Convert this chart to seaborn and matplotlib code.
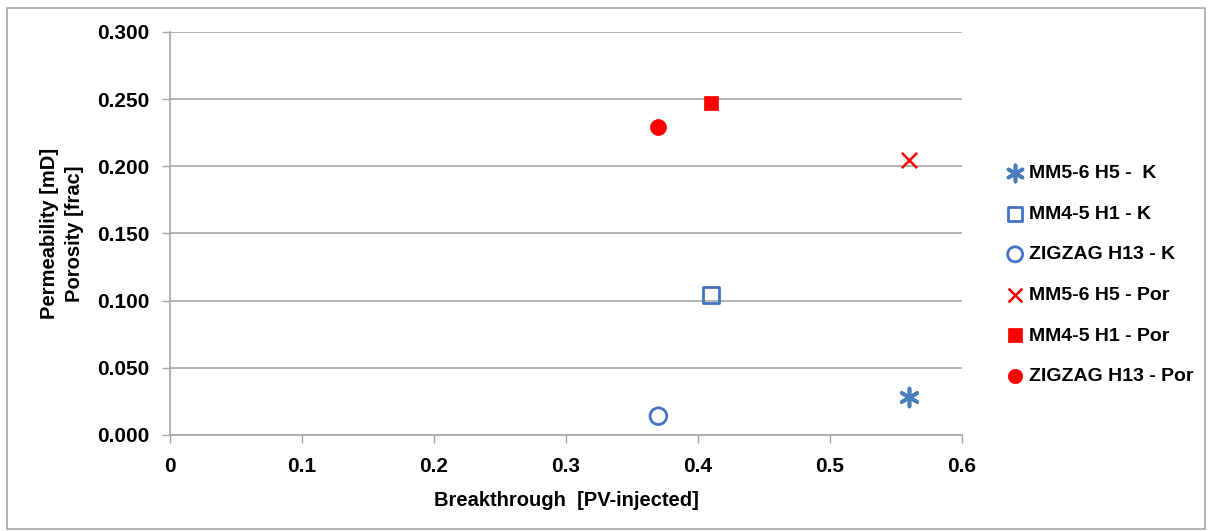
import matplotlib
matplotlib.use("Agg")
import matplotlib.pyplot as plt
import seaborn as sns
import pandas as pd
from matplotlib.patches import Rectangle

# ---- data ----
series_names = ["MM5-6 H5 -  K", "MM4-5 H1 - K", "ZIGZAG H13 - K",
                "MM5-6 H5 - Por", "MM4-5 H1 - Por", "ZIGZAG H13 - Por"]
breakthrough = [0.56, 0.41, 0.37, 0.56, 0.41, 0.37]
values = [0.028, 0.104, 0.014, 0.205, 0.247, 0.229]
x_ticks = [0, 0.1, 0.2, 0.3, 0.4, 0.5, 0.6]
x_tick_labels = ["0", "0.1", "0.2", "0.3", "0.4", "0.5", "0.6"]
y_ticks = [0.0, 0.05, 0.10, 0.15, 0.20, 0.25, 0.30]
y_tick_labels = ["0.000", "0.050", "0.100", "0.150", "0.200", "0.250", "0.300"]

# ---- styles ----
blue = "#4472C4"
blue2 = "#4A7EBB"
red = "#FF0000"
styles = [
    dict(marker=(6, 2, 0), facecolor=blue2, edgecolor=blue2, size=13, lw=2.6),
    dict(marker="s", facecolor="none", edgecolor=blue, size=11.5, lw=2.0),
    dict(marker="o", facecolor="none", edgecolor=blue, size=12, lw=2.0),
    dict(marker="x", facecolor=red, edgecolor=red, size=11, lw=1.8),
    dict(marker="s", facecolor=red, edgecolor=red, size=10.5, lw=0.5),
    dict(marker="o", facecolor=red, edgecolor=red, size=11.5, lw=0.5),
]

df = pd.DataFrame({"name": series_names, "x": breakthrough, "y": values})

sns.set_theme(style="white")
plt.rcParams["font.family"] = ["Liberation Sans", "DejaVu Sans"]
plt.rcParams["font.weight"] = "bold"
plt.rcParams["axes.labelweight"] = "bold"
plt.rcParams["axes.labelcolor"] = "black"
plt.rcParams["text.color"] = "black"

fig = plt.figure(figsize=(12.12, 5.31), dpi=100)
ax = fig.add_axes([170 / 1212, 1 - 435 / 531, (962 - 170) / 1212, (435 - 32) / 531])

for name, st in zip(series_names, styles):
    sub = df[df["name"] == name]
    sns.scatterplot(data=sub, x="x", y="y", ax=ax, marker=st["marker"],
                    s=st["size"] ** 2, color=st["facecolor"] if st["facecolor"] != "none" else None,
                    facecolor=st["facecolor"], edgecolor=st["edgecolor"],
                    linewidth=st["lw"], label=name, zorder=3, clip_on=False)

ax.set_xlim(0, 0.6)
ax.set_ylim(0, 0.3)
ax.set_xticks(x_ticks)
ax.set_xticklabels(x_tick_labels)
ax.set_yticks(y_ticks)
ax.set_yticklabels(y_tick_labels)
ax.tick_params(axis="both", labelsize=15, colors="#000000", length=6, width=1,
               direction="out")
ax.tick_params(axis="x", bottom=True, color="#A6A6A6", pad=10)
ax.tick_params(axis="y", left=True, color="#A6A6A6", pad=9)
for lbl in ax.get_xticklabels() + ax.get_yticklabels():
    lbl.set_fontweight("bold")

ax.grid(axis="y", color="#A6A6A6", linewidth=1.2)
ax.grid(axis="x", visible=False)
ax.set_axisbelow(True)
for side in ["top", "right"]:
    ax.spines[side].set_visible(False)
for side in ["left", "bottom"]:
    ax.spines[side].set_color("#A6A6A6")
    ax.spines[side].set_linewidth(1.2)

ax.set_xlabel("Breakthrough  [PV-injected]", fontsize=14.5, fontweight="bold", color="black")
ax.xaxis.set_label_coords(0.5, -0.14)
ax.set_ylabel("Permeability [mD]\nPorosity [frac]", fontsize=14.5, fontweight="bold",
              linespacing=1.4, color="black")
ax.yaxis.set_label_coords(-0.109, 0.5)

leg = ax.legend(loc="upper left", bbox_to_anchor=(1.045, 0.69), frameon=False,
                prop={"size": 14, "weight": "bold"}, labelspacing=1.18,
                handletextpad=0.2, handlelength=1.0, borderaxespad=0,
                markerscale=0.9)

fig.patches.append(Rectangle((7 / 1212, 2 / 531), 1 - 14 / 1212, 1 - 10 / 531,
                             transform=fig.transFigure, fill=False,
                             edgecolor="#A6A6A6", linewidth=1.2))

fig.savefig("out.png", dpi=100)
